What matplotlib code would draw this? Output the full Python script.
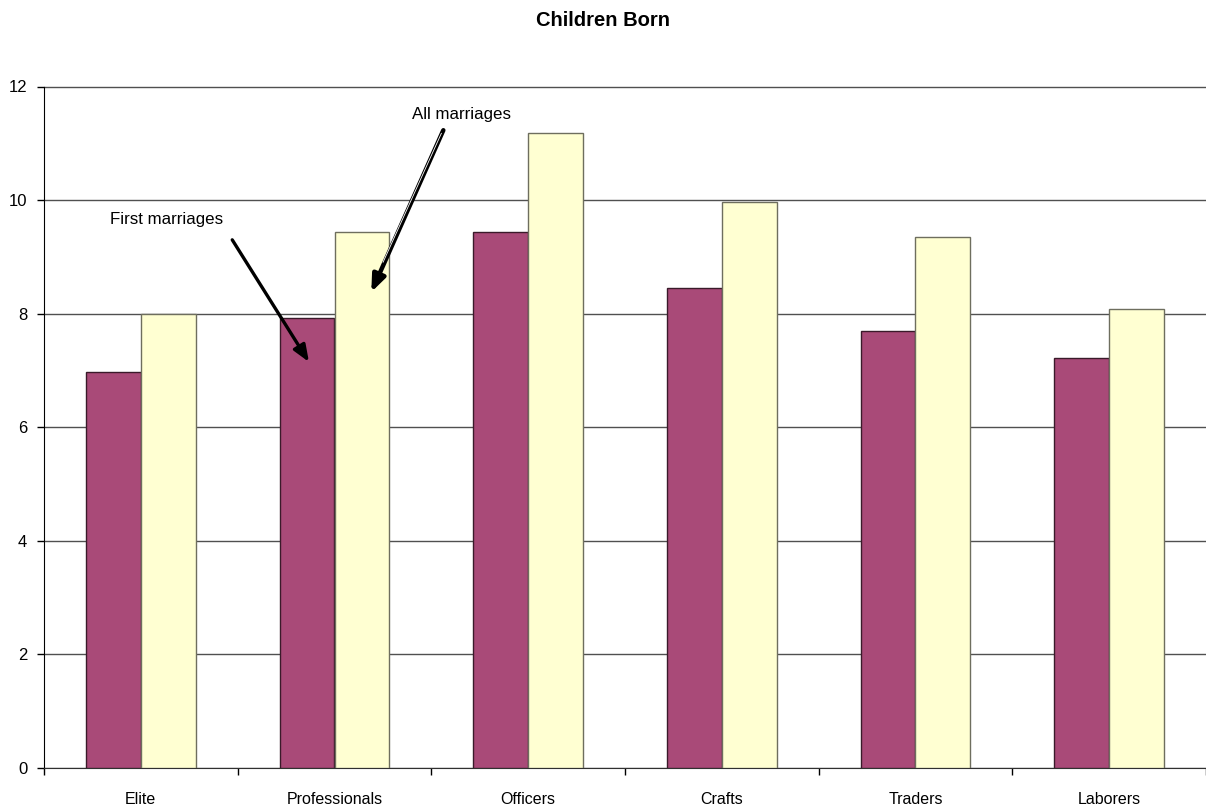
import matplotlib.pyplot as plt
import matplotlib.transforms as mtransforms
import numpy as np

plt.rcParams['font.family'] = ['Liberation Sans', 'DejaVu Sans']

# values
categories = ["Elite", "Professionals", "Officers", "Crafts", "Traders", "Laborers"]
first_marriages = [6.98, 7.92, 9.44, 8.45, 7.70, 7.22]
all_marriages = [7.99, 9.44, 11.18, 9.96, 9.35, 8.09]

purple = "#A94A78"
yellow = "#FFFFD2"
bw = 0.283

fig = plt.figure(figsize=(12.06, 8.08), dpi=100)
ax = fig.add_axes([44 / 1206, 40 / 808, 1 - 44 / 1206, (768 - 86.5) / 808])

x = np.arange(len(categories))
ax.bar(x - bw / 2, first_marriages, bw, color=purple, edgecolor="#3a1a2a", linewidth=1, zorder=3)
ax.bar(x + bw / 2, all_marriages, bw, color=yellow, edgecolor="#6e6e5e", linewidth=1, zorder=3)

ax.set_xlim(-0.5, -0.5 + (1206 - 44) / 194.5)
ax.set_ylim(0, 12)
ax.set_yticks(np.arange(0, 13, 2))
ax.yaxis.grid(True, color="#505050", linewidth=1, zorder=0)
ax.set_axisbelow(True)

# category labels centred, tick marks on the boundaries
ax.set_xticks(x)
ax.set_xticklabels(categories)
ax.set_xticks(np.arange(-0.5, 5.6, 1), minor=True)
ax.tick_params(axis="x", which="major", length=0, pad=17, labelsize=11.5)
ax.tick_params(axis="x", which="minor", length=5, width=1, direction="out")
ax.tick_params(axis="y", length=5, width=1, pad=7, labelsize=12)

for s in ["top", "right"]:
    ax.spines[s].set_visible(False)
ax.spines["left"].set_color("black")
ax.spines["bottom"].set_color("#303030")

fig.text(0.5, 1 - 21 / 808, "Children Born", ha="center", va="center",
         fontsize=14.5, fontweight="bold")

# annotations: labels and arrows drawn separately
ax.text(0.132, 9.65, "First marriages", ha="center", va="center", fontsize=12.2)
ax.annotate("", xy=(0.868, 7.15), xytext=(0.472, 9.30),
            arrowprops=dict(arrowstyle="-|>,head_length=1.0,head_width=0.4",
                            color="black", lw=2.4, shrinkA=0, shrinkB=0))

ax.text(1.654, 11.50, "All marriages", ha="center", va="center", fontsize=12.2)
ax.annotate("", xy=(1.19, 8.38), xytext=(1.562, 11.23),
            arrowprops=dict(arrowstyle="-|>,head_length=1.0,head_width=0.4",
                            color="black", lw=3.2, shrinkA=0, shrinkB=0))
# thin white highlight inside the shaft
shift = mtransforms.offset_copy(ax.transData, fig=fig, x=-0.8, y=0.35, units="dots")
ax.plot([1.556, 1.255], [11.17, 8.90], color="white", lw=0.6, transform=shift, zorder=5)

fig.savefig("out.png", dpi=100)
